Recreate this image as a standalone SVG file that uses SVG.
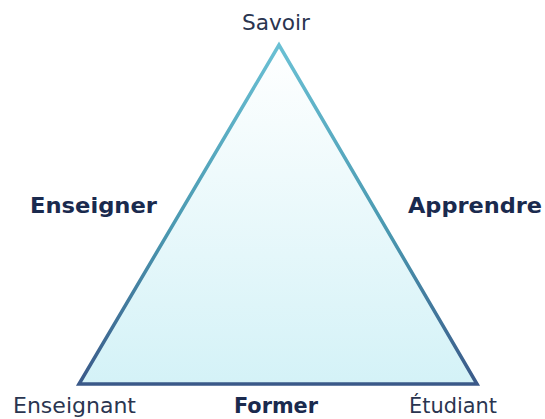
<svg xmlns="http://www.w3.org/2000/svg" width="545" height="419" viewBox="0 0 545 419">
<defs>
<linearGradient id="fillG" x1="0" y1="0" x2="0" y2="1">
<stop offset="0" stop-color="#ffffff"/>
<stop offset="1" stop-color="#d4f2f7"/>
</linearGradient>
<linearGradient id="strokeG" x1="0" y1="44" x2="0" y2="386" gradientUnits="userSpaceOnUse">
<stop offset="0" stop-color="#6ac0d4"/>
<stop offset="0.55" stop-color="#4a98b0"/>
<stop offset="1" stop-color="#3a5888"/>
</linearGradient>
<style>
.lbl{font-family:"DejaVu Sans",Verdana,sans-serif;font-size:21px;fill:#2a3550}
.b{font-weight:bold;fill:#1a2a4e}
</style>
</defs>
<rect width="545" height="419" fill="#ffffff"/>
<g id="triangle">
<polygon points="279,45 79,384 477,384" fill="url(#fillG)" stroke="url(#strokeG)" stroke-width="3.5" stroke-linejoin="miter"/>
</g>
<g id="connectors"></g>
<g id="savoir"><text class="lbl" x="242" y="30" textLength="68" lengthAdjust="spacingAndGlyphs">Savoir</text></g>
<g id="enseignant"><text class="lbl" x="13" y="413" textLength="123" lengthAdjust="spacingAndGlyphs">Enseignant</text></g>
<g id="etudiant"><text class="lbl" x="409" y="413" textLength="88" lengthAdjust="spacingAndGlyphs">Étudiant</text></g>
<g id="former"><text class="lbl b" x="234" y="413" textLength="84" lengthAdjust="spacingAndGlyphs">Former</text></g>
<g id="enseigner"><text class="lbl b" x="30" y="213" textLength="127" lengthAdjust="spacingAndGlyphs">Enseigner</text></g>
<g id="apprendre"><text class="lbl b" x="408" y="213" textLength="134" lengthAdjust="spacingAndGlyphs">Apprendre</text></g>
</svg>
